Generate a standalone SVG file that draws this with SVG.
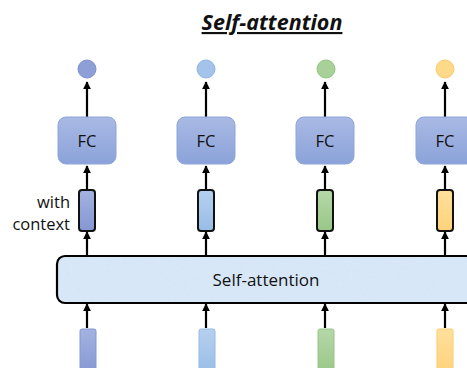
<svg xmlns="http://www.w3.org/2000/svg" width="467" height="368" viewBox="0 0 467 368">
  <style>
    .txt { font-family: "Open Sans", "Liberation Sans", sans-serif; fill: #111; }
    .fc rect { fill: url(#fcGrad); stroke: #8ea6da; stroke-width: 1; }
    .vec { stroke: #111; stroke-width: 2; }
    .conn line { stroke: #000; stroke-width: 2.2; marker-end: url(#arrow); }
  </style>
  <defs>
    <linearGradient id="fcGrad" x1="0" y1="0" x2="0" y2="1">
      <stop offset="0" stop-color="#a9b9e4"/>
      <stop offset="1" stop-color="#8ba3d9"/>
    </linearGradient>
    <linearGradient id="gBlue" x1="0" y1="0" x2="0" y2="1">
      <stop offset="0" stop-color="#a3b2e0"/>
      <stop offset="1" stop-color="#8597d3"/>
    </linearGradient>
    <linearGradient id="gSky" x1="0" y1="0" x2="0" y2="1">
      <stop offset="0" stop-color="#b6d0ef"/>
      <stop offset="1" stop-color="#98bde6"/>
    </linearGradient>
    <linearGradient id="gGreen" x1="0" y1="0" x2="0" y2="1">
      <stop offset="0" stop-color="#b5d7a8"/>
      <stop offset="1" stop-color="#98c887"/>
    </linearGradient>
    <linearGradient id="gYellow" x1="0" y1="0" x2="0" y2="1">
      <stop offset="0" stop-color="#ffe09c"/>
      <stop offset="1" stop-color="#ffd27a"/>
    </linearGradient>
    <filter id="grain" x="0" y="0" width="100%" height="100%">
      <feTurbulence type="fractalNoise" baseFrequency="0.3" numOctaves="2" seed="4" result="n"/>
      <feColorMatrix in="n" type="matrix" values="0 0 0 0 0.72  0 0 0 0 0.82  0 0 0 0 0.95  0 0 0 0.7 -0.1" result="c"/>
      <feComposite in="c" in2="SourceGraphic" operator="in" result="t"/>
      <feMerge><feMergeNode in="SourceGraphic"/><feMergeNode in="t"/></feMerge>
    </filter>
    <marker id="arrow" viewBox="0 0 10 10" refX="9" refY="5" markerWidth="3.6" markerHeight="3.6" orient="auto" markerUnits="strokeWidth">
      <path d="M0,0 L10,5 L0,10 z" fill="#000"/>
    </marker>
  </defs>

  <!-- heading -->
  <text class="txt" x="272" y="30" font-size="21.5" font-weight="bold" font-style="italic" text-anchor="middle" text-decoration="underline">Self-attention</text>

  <!-- connectors -->
  <g id="connectors" class="conn">
    <line x1="87" y1="117" x2="87" y2="82"/>
    <line x1="206" y1="117" x2="206" y2="82"/>
    <line x1="325" y1="117" x2="325" y2="82"/>
    <line x1="445" y1="117" x2="445" y2="82"/>

    <line x1="87" y1="189" x2="87" y2="166"/>
    <line x1="206" y1="189" x2="206" y2="166"/>
    <line x1="325" y1="189" x2="325" y2="166"/>
    <line x1="445" y1="189" x2="445" y2="166"/>

    <line x1="87" y1="256" x2="87" y2="232"/>
    <line x1="206" y1="256" x2="206" y2="232"/>
    <line x1="325" y1="256" x2="325" y2="232"/>
    <line x1="445" y1="256" x2="445" y2="232"/>

    <line x1="87" y1="328" x2="87" y2="304"/>
    <line x1="206" y1="328" x2="206" y2="304"/>
    <line x1="325" y1="328" x2="325" y2="304"/>
    <line x1="445" y1="328" x2="445" y2="304"/>
  </g>

  <!-- output scalars -->
  <g id="out1"><circle cx="87" cy="69" r="9" fill="#8e9fd7" stroke="#7d90cf"/></g>
  <g id="out2"><circle cx="206" cy="69" r="9" fill="#a3c3ea" stroke="#8fb5e4"/></g>
  <g id="out3"><circle cx="326" cy="69" r="9" fill="#a7d198" stroke="#8fc47d"/></g>
  <g id="out4"><circle cx="445" cy="69" r="9" fill="#ffd98a" stroke="#f8cc6b"/></g>

  <!-- fully connected layers -->
  <g id="fc1" class="fc"><rect x="58" y="117" width="58" height="47" rx="8"/><text class="txt" x="87" y="147" font-size="16.5" text-anchor="middle">FC</text></g>
  <g id="fc2" class="fc"><rect x="177" y="117" width="58" height="47" rx="8"/><text class="txt" x="206" y="147" font-size="16.5" text-anchor="middle">FC</text></g>
  <g id="fc3" class="fc"><rect x="296" y="117" width="58" height="47" rx="8"/><text class="txt" x="325" y="147" font-size="16.5" text-anchor="middle">FC</text></g>
  <g id="fc4" class="fc"><rect x="416" y="117" width="58" height="47" rx="8"/><text class="txt" x="445" y="147" font-size="16.5" text-anchor="middle">FC</text></g>

  <!-- context-aware vectors -->
  <g id="ctx1"><rect class="vec" x="79" y="190" width="16" height="41" rx="3" fill="url(#gBlue)"/></g>
  <g id="ctx2"><rect class="vec" x="198" y="190" width="16" height="41" rx="3" fill="url(#gSky)"/></g>
  <g id="ctx3"><rect class="vec" x="317" y="190" width="16" height="41" rx="3" fill="url(#gGreen)"/></g>
  <g id="ctx4"><rect class="vec" x="437" y="190" width="16" height="41" rx="3" fill="url(#gYellow)"/></g>

  <g id="label-context">
    <text class="txt" x="70" y="208" font-size="16.5" text-anchor="end">with</text>
    <text class="txt" x="70" y="230" font-size="16.5" text-anchor="end">context</text>
  </g>

  <!-- self-attention layer: textured fill, then outline on top -->
  <g id="self-attention">
    <rect x="57" y="256" width="430" height="47" rx="8" fill="#d7e6f7" filter="url(#grain)"/>
    <rect x="57" y="256" width="430" height="47" rx="8" fill="none" stroke="#000" stroke-width="2.2"/>
    <text class="txt" x="266" y="286" font-size="17" text-anchor="middle">Self-attention</text>
  </g>

  <!-- input vectors -->
  <g id="in1"><rect x="80" y="329" width="16" height="45" rx="2" fill="url(#gBlue)" stroke="#8596d2"/></g>
  <g id="in2"><rect x="199" y="329" width="16" height="45" rx="2" fill="url(#gSky)" stroke="#95bae5"/></g>
  <g id="in3"><rect x="318" y="329" width="16" height="45" rx="2" fill="url(#gGreen)" stroke="#95c684"/></g>
  <g id="in4"><rect x="437" y="329" width="16" height="45" rx="2" fill="url(#gYellow)" stroke="#f8cd70"/></g>
</svg>
